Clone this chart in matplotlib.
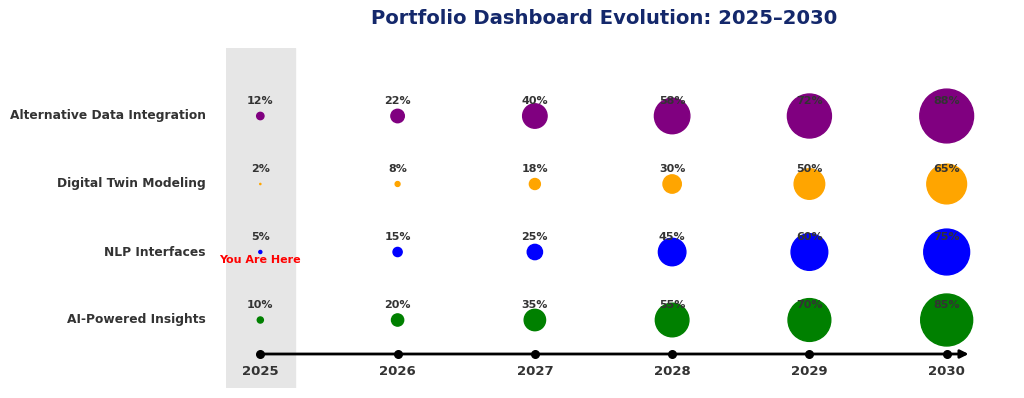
import matplotlib
matplotlib.use("Agg")
import matplotlib.pyplot as plt

years = [2025, 2026, 2027, 2028, 2029, 2030]
categories = ["AI-Powered Insights", "NLP Interfaces", "Digital Twin Modeling", "Alternative Data Integration"]
ai_insights = [10, 20, 35, 55, 70, 85]
nlp = [5, 15, 25, 45, 60, 75]
digital_twin = [2, 8, 18, 30, 50, 65]
alt_data = [12, 22, 40, 58, 72, 88]
colors = ["green", "blue", "orange", "purple"]
series = [ai_insights, nlp, digital_twin, alt_data]

fig = plt.figure(figsize=(10.24, 3.98), dpi=100)
ax = fig.add_axes([226/1024, 10/398, (981-226)/1024, 340/398])
ax.set_xlim(2024.75, 2030.25)
ax.set_ylim(-1, 4)
ax.axis("off")

ax.axvspan(2024.75, 2025.25, color="#e6e6e6", zorder=0)

for i, (vals, col) in enumerate(zip(series, colors)):
    ax.scatter(years, [i]*len(years), s=[(v*0.44)**2 for v in vals], color=col, zorder=3)
    for x, v in zip(years, vals):
        ax.text(x, i + 0.22, f"{v}%", ha="center", va="center", fontsize=8,
                fontweight="bold", color="#333333", zorder=4)
    ax.text(-0.027, i, categories[i], transform=ax.get_yaxis_transform(),
            ha="right", va="center", fontsize=8.85, fontweight="bold", color="#333333")

ax.annotate("", xy=(2030.18, -0.5), xytext=(2025, -0.5),
            arrowprops=dict(arrowstyle="-|>", color="black", lw=2, mutation_scale=12))
ax.scatter(years, [-0.5]*len(years), s=30, color="black", zorder=5)
for x in years:
    ax.text(x, -0.76, str(x), ha="center", va="center", fontsize=9.5,
            fontweight="bold", color="#333333")

ax.text(2025, 0.88, "You Are Here", ha="center", va="center", fontsize=8,
        fontweight="bold", color="red", zorder=6)

fig.text(604/1024, 1 - 18/398, "Portfolio Dashboard Evolution: 2025\u20132030",
         ha="center", va="center", fontsize=14.15, fontweight="bold", color="#14286b")

fig.savefig("out.png", dpi=100)
